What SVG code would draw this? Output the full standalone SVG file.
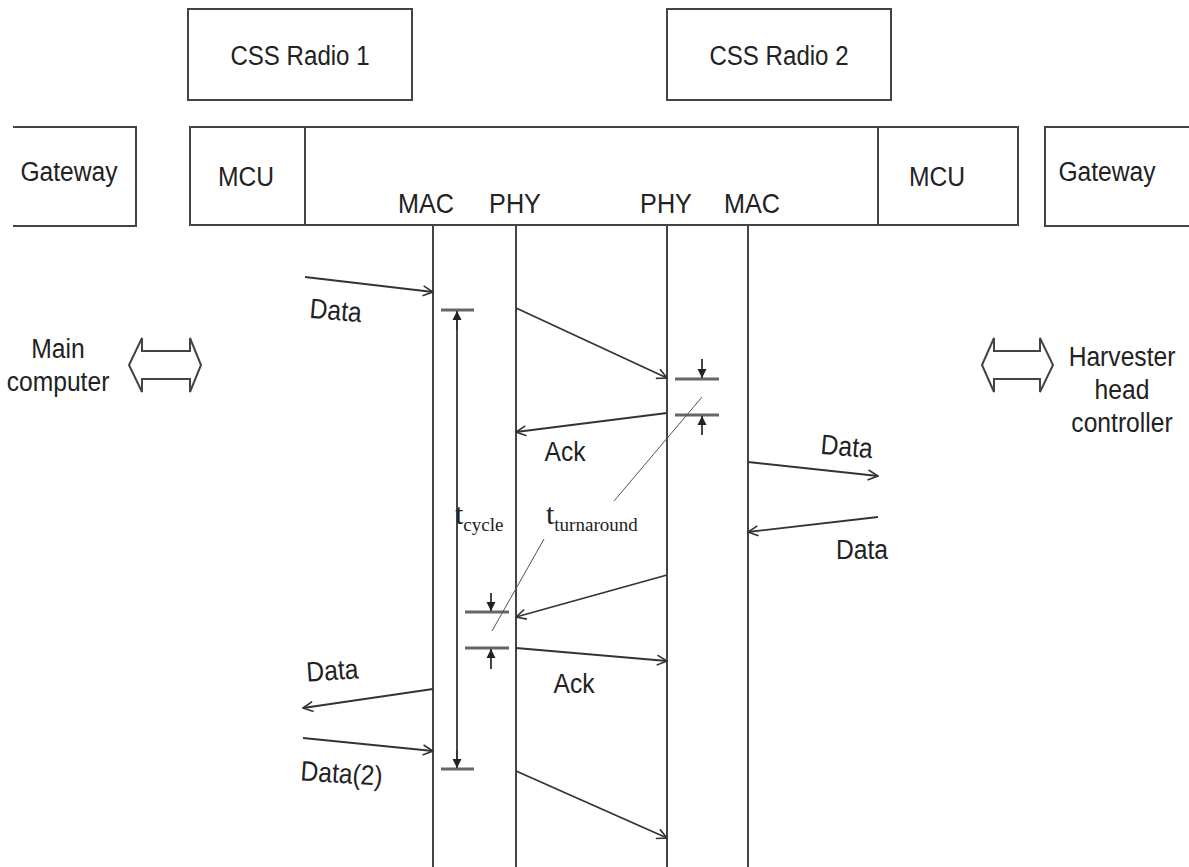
<svg xmlns="http://www.w3.org/2000/svg" width="1189" height="867" viewBox="0 0 1189 867">
<style>
.box{fill:#fff;stroke:#444;stroke-width:2}
.ln{fill:none;stroke:#333;stroke-width:1.8}
.thin{fill:none;stroke:#555;stroke-width:1}
.bar{fill:none;stroke:#666;stroke-width:3}
.t{font-family:"Liberation Sans",Arial,sans-serif;font-size:28px;fill:#222;text-anchor:middle}
.tm{font-family:"Liberation Serif","Times New Roman",serif;fill:#222}
.dbl{fill:#fff;stroke:#444;stroke-width:2}
</style>
<defs>
<marker id="open" viewBox="0 0 12 12" refX="11" refY="6" markerWidth="12" markerHeight="12" markerUnits="userSpaceOnUse" orient="auto">
<path d="M1,1 L11,6 L1,11" fill="none" stroke="#333" stroke-width="1.6"/>
</marker>
<marker id="fill" viewBox="0 0 10 10" refX="10" refY="5" markerWidth="9" markerHeight="10" markerUnits="userSpaceOnUse" orient="auto">
<path d="M0,0 L10,5 L0,10 z" fill="#222"/>
</marker>
</defs>
<rect width="1189" height="867" fill="#fff"/>

<g id="radio1"><rect class="box" x="188" y="9" width="224" height="91"/><text class="t" transform="translate(300,65) scale(0.86,1)">CSS Radio 1</text></g>
<g id="radio2"><rect class="box" x="667" y="9" width="224" height="91"/><text class="t" transform="translate(779,65) scale(0.86,1)">CSS Radio 2</text></g>

<g id="gateway-left"><path class="box" d="M13,127 H136 V226 H13"/><text class="t" transform="translate(69,181) scale(0.88,1)">Gateway</text></g>
<g id="gateway-right"><path class="box" d="M1189,127 H1045 V226 H1189"/><text class="t" transform="translate(1107,181) scale(0.88,1)">Gateway</text></g>

<g id="bar"><rect class="box" x="190" y="127" width="828" height="98"/><line class="box" x1="305" y1="127" x2="305" y2="225"/><line class="box" x1="878" y1="127" x2="878" y2="225"/></g>
<g id="mcu-left"><text class="t" transform="translate(246,186) scale(0.88,1)">MCU</text></g>
<g id="mcu-right"><text class="t" transform="translate(937,186) scale(0.88,1)">MCU</text></g>
<g id="labels-layers">
<text class="t" transform="translate(426,213) scale(0.9,1)">MAC</text>
<text class="t" transform="translate(515,213) scale(0.9,1)">PHY</text>
<text class="t" transform="translate(666,213) scale(0.9,1)">PHY</text>
<text class="t" transform="translate(752,213) scale(0.9,1)">MAC</text>
</g>

<g id="lifeline1"><rect class="box" x="433" y="225" width="83" height="650"/></g>
<g id="lifeline2"><rect class="box" x="667" y="225" width="81" height="650"/></g>

<g id="main-computer">
<path class="dbl" d="M129,365 L142,338 L142,351 L190,351 L190,338 L201,365 L190,392 L190,379 L142,379 L142,392 Z"/>
<text class="t" transform="translate(58,358) scale(0.88,1)">Main</text>
<text class="t" transform="translate(58,391) scale(0.88,1)">computer</text>
</g>
<g id="harvester">
<path class="dbl" d="M982,365 L994,338 L994,351 L1040,351 L1040,338 L1053,365 L1040,392 L1040,379 L994,379 L994,392 Z"/>
<text class="t" transform="translate(1122,366) scale(0.88,1)">Harvester</text>
<text class="t" transform="translate(1122,399) scale(0.88,1)">head</text>
<text class="t" transform="translate(1122,432) scale(0.88,1)">controller</text>
</g>

<g id="connectors">
<line class="ln" x1="305" y1="277" x2="433" y2="292" marker-end="url(#open)"/>
<line class="ln" x1="516" y1="308" x2="667" y2="378" marker-end="url(#open)"/>
<line class="ln" x1="667" y1="413" x2="516" y2="432" marker-end="url(#open)"/>
<line class="ln" x1="748" y1="462" x2="878" y2="476" marker-end="url(#open)"/>
<line class="ln" x1="878" y1="517" x2="748" y2="532" marker-end="url(#open)"/>
<line class="ln" x1="667" y1="575" x2="516" y2="617" marker-end="url(#open)"/>
<line class="ln" x1="516" y1="648" x2="667" y2="661" marker-end="url(#open)"/>
<line class="ln" x1="433" y1="689" x2="303" y2="708" marker-end="url(#open)"/>
<line class="ln" x1="303" y1="738" x2="433" y2="751" marker-end="url(#open)"/>
<line class="ln" x1="516" y1="771" x2="667" y2="838" marker-end="url(#open)"/>

<line class="bar" x1="441" y1="310" x2="474" y2="310"/>
<line class="bar" x1="441" y1="769" x2="474" y2="769"/>
<line class="ln" x1="457" y1="320" x2="457" y2="759"/>
<line class="ln" x1="457" y1="330" x2="457" y2="311" marker-end="url(#fill)"/>
<line class="ln" x1="457" y1="750" x2="457" y2="768" marker-end="url(#fill)"/>

<line class="bar" x1="675" y1="379" x2="719" y2="379"/>
<line class="bar" x1="675" y1="415" x2="719" y2="415"/>
<line class="ln" x1="702" y1="359" x2="702" y2="378" marker-end="url(#fill)"/>
<line class="ln" x1="702" y1="435" x2="702" y2="416" marker-end="url(#fill)"/>

<line class="bar" x1="465" y1="612" x2="509" y2="612"/>
<line class="bar" x1="465" y1="648" x2="509" y2="648"/>
<line class="ln" x1="491" y1="593" x2="491" y2="611" marker-end="url(#fill)"/>
<line class="ln" x1="491" y1="669" x2="491" y2="649" marker-end="url(#fill)"/>

<line class="thin" x1="702" y1="397" x2="614" y2="501"/>
<line class="thin" x1="544" y1="539" x2="492" y2="631"/>
</g>

<g id="conn-labels">
<text class="t" transform="translate(335,320) rotate(5) scale(0.88,1)">Data</text>
<text class="t" transform="translate(565,461) scale(0.88,1)">Ack</text>
<text class="t" transform="translate(846,456) rotate(5) scale(0.88,1)">Data</text>
<text class="t" transform="translate(862,559) scale(0.88,1)">Data</text>
<text class="t" transform="translate(574,693) scale(0.88,1)">Ack</text>
<text class="t" transform="translate(333,680) rotate(-4) scale(0.88,1)">Data</text>
<text class="t" transform="translate(341,783) rotate(4) scale(0.88,1)">Data(2)</text>
<text class="tm" x="455" y="524" font-size="30">t<tspan font-size="19" dy="7">cycle</tspan></text>
<text class="tm" x="546" y="524" font-size="30">t<tspan font-size="19" dy="7">turnaround</tspan></text>
</g>
</svg>
